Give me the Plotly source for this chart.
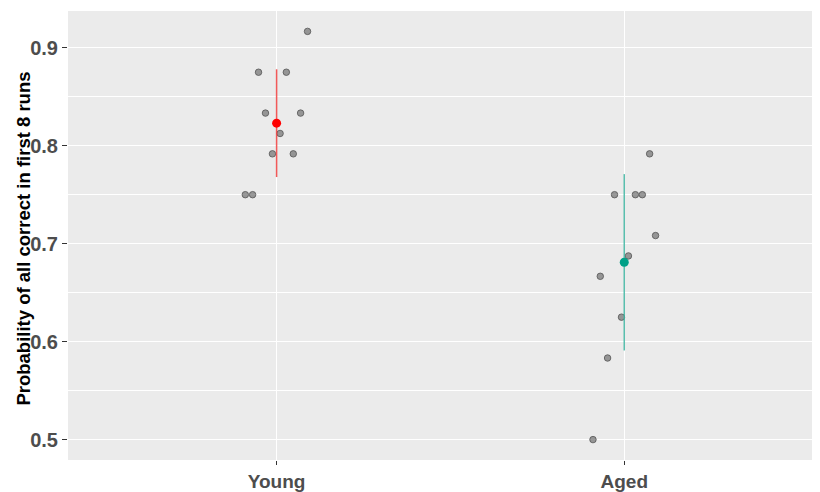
import plotly.graph_objects as go

categories = ["Young", "Aged"]

young_values = [0.9167, 0.875, 0.875, 0.8333, 0.8333, 0.8125, 0.7917, 0.7917, 0.75, 0.75]
young_jitter = [0.089, -0.052, 0.028, -0.032, 0.069, 0.010, -0.012, 0.048, -0.090, -0.069]

aged_values = [0.7917, 0.75, 0.75, 0.75, 0.7083, 0.6875, 0.6667, 0.625, 0.5833, 0.5]
aged_jitter = [0.073, -0.028, 0.032, 0.052, 0.090, 0.012, -0.069, -0.008, -0.048, -0.090]

means = [0.823, 0.681]
err_half = [0.055, 0.090]

mean_colors = ["#FF0000", "#00A087"]
bar_colors = ["rgba(240,60,60,0.85)", "rgba(60,180,160,0.85)"]

fig = go.Figure()

for i, (vals, jit) in enumerate([(young_values, young_jitter), (aged_values, aged_jitter)]):
    fig.add_trace(go.Scatter(
        x=[i + 1 + j for j in jit], y=vals, mode="markers",
        marker=dict(size=6.5, color="rgba(120,120,120,0.75)",
                    line=dict(color="rgba(85,85,85,0.8)", width=1)),
        showlegend=False, hoverinfo="y"))

for i in range(2):
    fig.add_trace(go.Scatter(
        x=[i + 1, i + 1], y=[means[i] - err_half[i], means[i] + err_half[i]],
        mode="lines", line=dict(color=bar_colors[i], width=1.5),
        showlegend=False, hoverinfo="skip"))
    fig.add_trace(go.Scatter(
        x=[i + 1], y=[means[i]], mode="markers",
        marker=dict(size=9, color=mean_colors[i]),
        showlegend=False, hoverinfo="y"))

font_family = "Liberation Sans, Arial, sans-serif"

# page body has an 8px default margin; figure is sized so the panel lands where the reference has it
W, H = 812, 484
L, T, B = 60, 3, 30
fig.update_layout(
    width=W, height=H,
    margin=dict(l=L, r=0, t=T, b=B),
    paper_bgcolor="white", plot_bgcolor="#EBEBEB",
    font=dict(family=font_family),
    xaxis=dict(
        range=[0.4, 2.563], tickmode="array", tickvals=[1, 2], ticktext=categories,
        showgrid=True, gridcolor="white", gridwidth=1.2, zeroline=False,
        ticks="outside", ticklen=4, tickcolor="#333333", tickwidth=1,
        tickfont=dict(size=19, color="#4D4D4D", weight="bold", family=font_family),
        showline=False),
    yaxis=dict(
        range=[0.4792, 0.9375], tickmode="array", tickvals=[0.5, 0.6, 0.7, 0.8, 0.9],
        ticktext=["0.5", "0.6", "0.7", "0.8", "0.9"],
        showgrid=True, gridcolor="white", gridwidth=1.2, zeroline=False,
        ticks="outside", ticklen=5, tickcolor="#333333", tickwidth=1,
        tickfont=dict(size=20, color="#4D4D4D", weight="bold", family=font_family),
        minor=dict(showgrid=True, gridcolor="white", gridwidth=0.6,
                   tickmode="array", tickvals=[0.55, 0.65, 0.75, 0.85], ticks=""),
        showline=False),
    annotations=[dict(
        text="Probability of all correct in first 8 runs",
        xref="paper", yref="paper", x=(23.5 - 68) / (W - L), y=0.492,
        xanchor="center", yanchor="middle", textangle=-90, showarrow=False,
        font=dict(size=18.5, color="black", weight="bold", family=font_family))],
)

fig.write_html("out.html")
